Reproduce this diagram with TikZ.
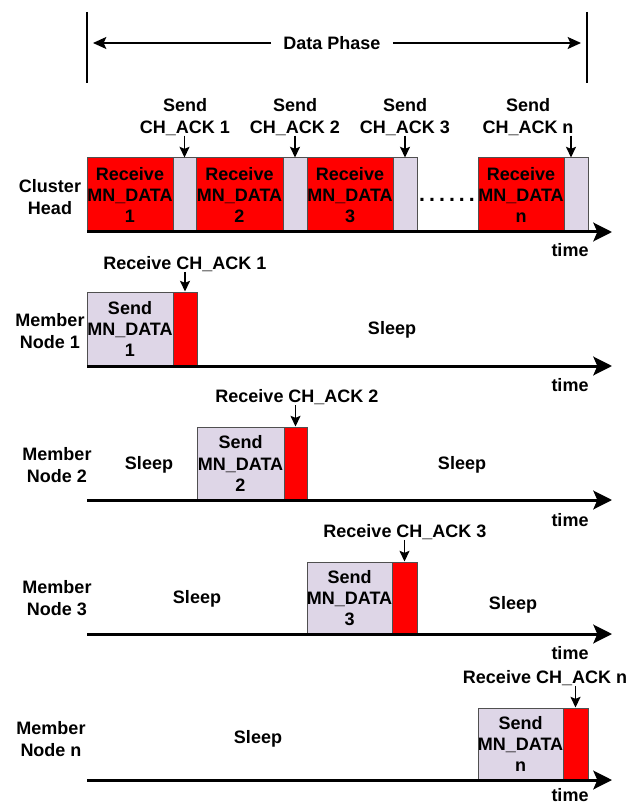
\documentclass[tikz,border=0pt]{standalone}
\usepackage{fontspec}
\setmainfont{Liberation Sans}
\usetikzlibrary{arrows.meta,fit}
\definecolor{boxred}{RGB}{255,0,0}
\definecolor{lav}{RGB}{222,214,231}
\definecolor{edgegray}{RGB}{80,80,80}
\newcommand\tlbox[7]{%
  \node[#2, fit={(#3,#4) (#5,#6)}] (#1) {};
  \node[txt] (#1t) at (#1.center) {#7};}
\tikzset{
  txt/.style={font=\fontsize{13.5}{16}\selectfont\bfseries, align=center, inner sep=0pt},
  rbox/.style={draw=edgegray, line width=0.75pt, fill=boxred, inner sep=0pt},
  lbox/.style={draw=edgegray, line width=0.75pt, fill=lav, inner sep=0pt},
  timeaxis/.style={line width=2.25pt, -{Stealth[length=14pt,width=14pt,inset=3pt]}},
  ack/.style={line width=1.1pt, -{Stealth[length=8pt,width=7.5pt,inset=1.5pt]}},
  phase/.style={line width=1.1pt, -{Stealth[length=10pt,width=9pt,inset=2pt]}},
  vline/.style={line width=1.5pt}
}
\begin{document}
\begin{tikzpicture}[x=0.75pt,y=-0.75pt]
\useasboundingbox (0,0) rectangle (641,805);

% Data phase
\coordinate (dpl1) at (87,12);
\coordinate (dpl2) at (87,83);
\coordinate (dpr1) at (587,12);
\coordinate (dpr2) at (587,83);
\draw[vline] (dpl1) -- (dpl2);
\draw[vline] (dpr1) -- (dpr2);
\node[txt, inner xsep=9pt] (dp) at (332,43) {Data Phase};
\coordinate (dpla) at (93,43);
\coordinate (dpra) at (581,43);
\draw[phase] (dp.west) -- (dpla);
\draw[phase] (dp.east) -- (dpra);

% Cluster head row
\node[txt] (chl) at (50,197) {Cluster\\Head};
\tlbox{r1}{rbox}{87}{158}{173}{232}{Receive\\MN\_DATA\\1}
\tlbox{a1}{lbox}{173}{158}{196}{232}{}
\tlbox{r2}{rbox}{196}{158}{283}{232}{Receive\\MN\_DATA\\2}
\tlbox{a2}{lbox}{283}{158}{307}{232}{}
\tlbox{r3}{rbox}{307}{158}{393}{232}{Receive\\MN\_DATA\\3}
\tlbox{a3}{lbox}{393}{158}{417}{232}{}
\tlbox{rn}{rbox}{478}{158}{564}{232}{Receive\\MN\_DATA\\n}
\tlbox{an}{lbox}{564}{158}{588}{232}{}
\node[txt, font=\fontsize{16}{16}\selectfont\bfseries] (dots) at (447,200) {.\kern3pt.\kern3pt.\kern3pt.\kern3pt.\kern3pt.};
\node[txt] (s1) at (185,117) {Send\\CH\_ACK 1};
\node[txt] (s2) at (295,117) {Send\\CH\_ACK 2};
\node[txt] (s3) at (405,117) {Send\\CH\_ACK 3};
\node[txt] (sn) at (528,117) {Send\\CH\_ACK n};
\draw[ack] (a1.north |- s1.south) -- (a1.north);
\draw[ack] (a2.north |- s2.south) -- (a2.north);
\draw[ack] (a3.north |- s3.south) -- (a3.north);
\draw[ack] ([xshift=-3.75pt]an.north |- sn.south) -- ([xshift=-3.75pt]an.north);
\coordinate (ch0) at (87,232);
\coordinate (ch1) at (612,232);
\draw[timeaxis] (ch0) -- (ch1);
\node[txt] (t0) at (570,250) {time};

% Member node 1
\node[txt] (m1l) at (50,331) {Member\\Node 1};
\tlbox{m1s}{lbox}{87}{292}{173}{366}{Send\\MN\_DATA\\1}
\tlbox{m1r}{rbox}{173}{292}{197}{366}{}
\node[txt] (rc1) at (185,264) {Receive CH\_ACK 1};
\draw[ack] (m1r.north |- rc1.south) -- (m1r.north);
\node[txt] (sl1) at (392,330) {Sleep};
\coordinate (m10) at (87,366);
\coordinate (m11) at (612,366);
\draw[timeaxis] (m10) -- (m11);
\node[txt] (t1) at (570,385) {time};

% Member node 2
\node[txt] (m2l) at (57,465) {Member\\Node 2};
\tlbox{m2s}{lbox}{197}{427}{284}{500}{Send\\MN\_DATA\\2}
\tlbox{m2r}{rbox}{284}{427}{307}{500}{}
\node[txt] (rc2) at (297,397) {Receive CH\_ACK 2};
\draw[ack] (m2r.north |- rc2.south) -- (m2r.north);
\node[txt] (sl2a) at (149,465) {Sleep};
\node[txt] (sl2b) at (462,465) {Sleep};
\coordinate (m20) at (87,500);
\coordinate (m21) at (612,500);
\draw[timeaxis] (m20) -- (m21);
\node[txt] (t2) at (570,520) {time};

% Member node 3
\node[txt] (m3l) at (57,598) {Member\\Node 3};
\tlbox{m3s}{lbox}{307}{562}{392}{634}{Send\\MN\_DATA\\3}
\tlbox{m3r}{rbox}{392}{562}{417}{634}{}
\node[txt] (rc3) at (405,532) {Receive CH\_ACK 3};
\draw[ack] (m3r.north |- rc3.south) -- (m3r.north);
\node[txt] (sl3a) at (197,599) {Sleep};
\node[txt] (sl3b) at (513,605) {Sleep};
\coordinate (m30) at (87,634);
\coordinate (m31) at (612,634);
\draw[timeaxis] (m30) -- (m31);
\node[txt] (t3) at (570,653) {time};

% Member node n
\node[txt] (mnl) at (51,739) {Member\\Node n};
\tlbox{mns}{lbox}{478}{708}{563}{780}{Send\\MN\_DATA\\n}
\tlbox{mnr}{rbox}{563}{708}{588}{780}{}
\node[txt] (rcn) at (545,678) {Receive CH\_ACK n};
\draw[ack] (mnr.north |- rcn.south) -- (mnr.north);
\node[txt] (sln) at (258,739) {Sleep};
\coordinate (mn0) at (87,780);
\coordinate (mn1) at (612,780);
\draw[timeaxis] (mn0) -- (mn1);
\node[txt] (tn) at (570,795) {time};
\end{tikzpicture}
\end{document}
